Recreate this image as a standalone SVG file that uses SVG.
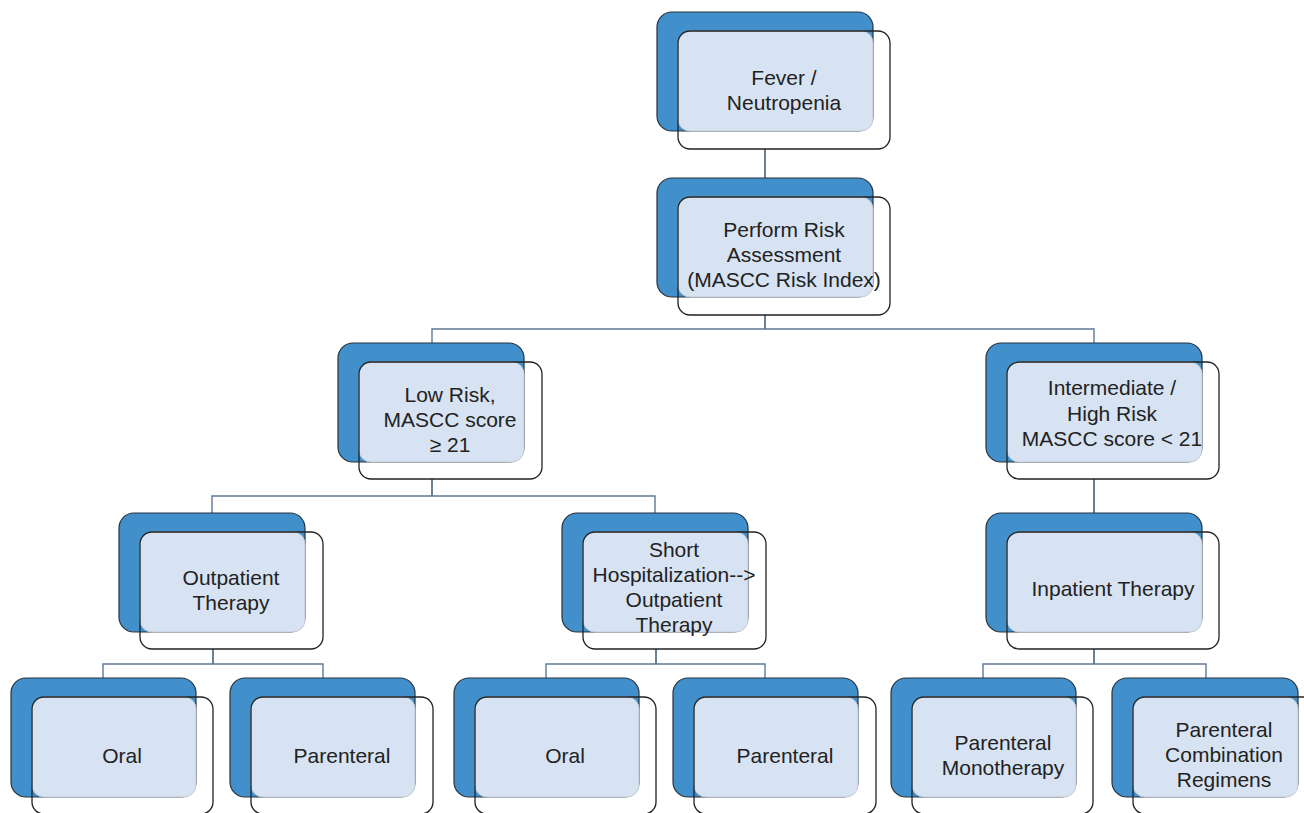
<svg xmlns="http://www.w3.org/2000/svg" width="1304" height="813" viewBox="0 0 1304 813">
<style>
.bg{fill:#ffffff}
.back{fill:#4190cb;stroke:#27323d;stroke-width:1.2}
.mid{fill:#d7e2f2;stroke:#c3cad3;stroke-width:1}
.front{fill:none;stroke:#222;stroke-width:1.3}
.t{font-family:"Liberation Sans",Arial,sans-serif;font-size:21px;fill:#222;text-anchor:middle}
.c{fill:none;stroke:#5d7a98;stroke-width:1.4}
.cv{fill:none;stroke:#46607d;stroke-width:1.6}
</style>
<rect class="bg" x="0" y="0" width="1304" height="813"/>
<g id="connectors">
<path class="cv" d="M765,149 V178"/>
<path class="cv" d="M765,315 V329"/>
<path class="c" d="M432,343 V329 H1094 V343"/>
<path class="cv" d="M432,479 V496"/>
<path class="c" d="M212,513 V496 H655 V513"/>
<path class="cv" d="M1094,479 V513"/>
<path class="cv" d="M213,649 V664"/>
<path class="c" d="M103,678 V664 H323 V678"/>
<path class="cv" d="M656,649 V664"/>
<path class="c" d="M546,678 V664 H765 V678"/>
<path class="cv" d="M1094,649 V664"/>
<path class="c" d="M983,678 V664 H1206 V678"/>
</g>
<g id="n1">
<rect class="back" x="657" y="12" width="216" height="119" rx="15"/>
<rect class="mid" x="678" y="31" width="195" height="100" rx="12"/>
<rect class="front" x="678" y="31" width="212" height="118" rx="12"/>
<text class="t" x="784" y="85">Fever /</text>
<text class="t" x="784" y="110">Neutropenia</text>
</g>
<g id="n2">
<rect class="back" x="657" y="178" width="216" height="119" rx="15"/>
<rect class="mid" x="678" y="197" width="195" height="100" rx="12"/>
<rect class="front" x="678" y="197" width="212" height="118" rx="12"/>
<text class="t" x="784" y="237">Perform Risk</text>
<text class="t" x="784" y="262">Assessment</text>
<text class="t" x="784" y="287">(MASCC Risk Index)</text>
</g>
<g id="n3">
<rect class="back" x="338" y="343" width="186" height="119" rx="15"/>
<rect class="mid" x="359" y="362" width="165" height="100" rx="12"/>
<rect class="front" x="359" y="362" width="183" height="117" rx="12"/>
<text class="t" x="450" y="402">Low Risk,</text>
<text class="t" x="450" y="427">MASCC score</text>
<text class="t" x="450" y="452">≥ 21</text>
</g>
<g id="n4">
<rect class="back" x="986" y="343" width="216" height="119" rx="15"/>
<rect class="mid" x="1007" y="362" width="195" height="100" rx="12"/>
<rect class="front" x="1007" y="362" width="212" height="117" rx="12"/>
<text class="t" x="1112" y="395">Intermediate /</text>
<text class="t" x="1112" y="421">High Risk</text>
<text class="t" x="1112" y="446">MASCC score &lt; 21</text>
</g>
<g id="n5">
<rect class="back" x="119" y="513" width="186" height="119" rx="15"/>
<rect class="mid" x="140" y="532" width="165" height="100" rx="12"/>
<rect class="front" x="140" y="532" width="183" height="117" rx="12"/>
<text class="t" x="231" y="585">Outpatient</text>
<text class="t" x="231" y="610">Therapy</text>
</g>
<g id="n6">
<rect class="back" x="562" y="513" width="186" height="119" rx="15"/>
<rect class="mid" x="583" y="532" width="165" height="100" rx="12"/>
<rect class="front" x="583" y="532" width="183" height="117" rx="12"/>
<text class="t" x="674" y="557">Short</text>
<text class="t" x="674" y="582">Hospitalization--&gt;</text>
<text class="t" x="674" y="607">Outpatient</text>
<text class="t" x="674" y="632">Therapy</text>
</g>
<g id="n7">
<rect class="back" x="986" y="513" width="216" height="119" rx="15"/>
<rect class="mid" x="1007" y="532" width="195" height="100" rx="12"/>
<rect class="front" x="1007" y="532" width="212" height="117" rx="12"/>
<text class="t" x="1113" y="596">Inpatient Therapy</text>
</g>
<g id="n8">
<rect class="back" x="11" y="678" width="185" height="119" rx="15"/>
<rect class="mid" x="32" y="697" width="164" height="100" rx="12"/>
<rect class="front" x="32" y="697" width="181" height="117" rx="12"/>
<text class="t" x="122" y="763">Oral</text>
</g>
<g id="n9">
<rect class="back" x="230" y="678" width="185" height="119" rx="15"/>
<rect class="mid" x="251" y="697" width="164" height="100" rx="12"/>
<rect class="front" x="251" y="697" width="182" height="117" rx="12"/>
<text class="t" x="342" y="763">Parenteral</text>
</g>
<g id="n10">
<rect class="back" x="454" y="678" width="185" height="119" rx="15"/>
<rect class="mid" x="475" y="697" width="164" height="100" rx="12"/>
<rect class="front" x="475" y="697" width="181" height="117" rx="12"/>
<text class="t" x="565" y="763">Oral</text>
</g>
<g id="n11">
<rect class="back" x="673" y="678" width="185" height="119" rx="15"/>
<rect class="mid" x="694" y="697" width="164" height="100" rx="12"/>
<rect class="front" x="694" y="697" width="182" height="117" rx="12"/>
<text class="t" x="785" y="763">Parenteral</text>
</g>
<g id="n12">
<rect class="back" x="891" y="678" width="185" height="119" rx="15"/>
<rect class="mid" x="912" y="697" width="164" height="100" rx="12"/>
<rect class="front" x="912" y="697" width="181" height="117" rx="12"/>
<text class="t" x="1003" y="750">Parenteral</text>
<text class="t" x="1003" y="775">Monotherapy</text>
</g>
<g id="n13">
<rect class="back" x="1112" y="678" width="186" height="119" rx="15"/>
<rect class="mid" x="1133" y="697" width="165" height="100" rx="12"/>
<rect class="front" x="1133" y="697" width="183" height="117" rx="12"/>
<text class="t" x="1224" y="737">Parenteral</text>
<text class="t" x="1224" y="762">Combination</text>
<text class="t" x="1224" y="787">Regimens</text>
</g>
</svg>
